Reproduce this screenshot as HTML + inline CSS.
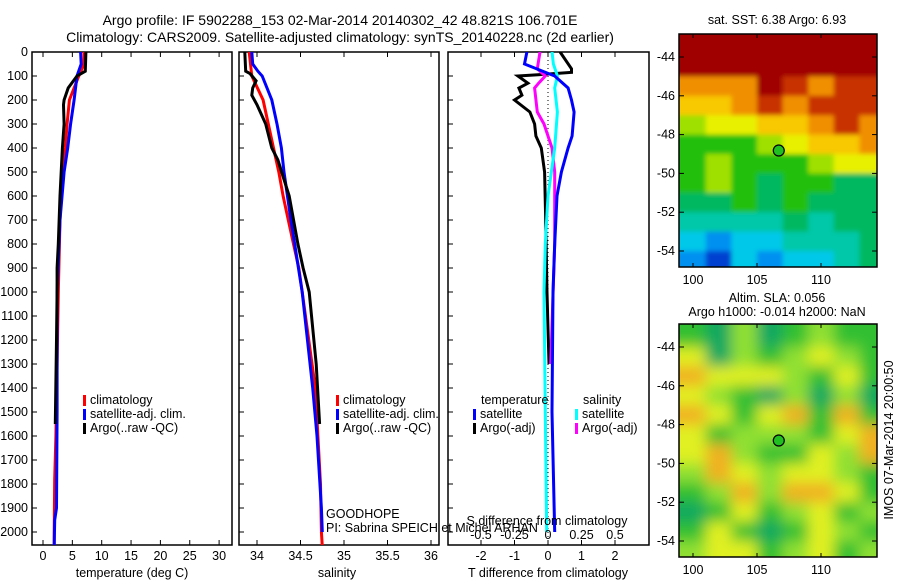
<!DOCTYPE html>
<html><head><meta charset="utf-8"><style>
html,body{margin:0;padding:0;background:#fff;}
svg{display:block;font-family:"Liberation Sans",sans-serif;font-size:12.5px;}
</style></head><body>
<svg id="s" width="900" height="580" viewBox="0 0 900 580">
<defs>
<clipPath id="c1"><rect x="32" y="52" width="200" height="493"/></clipPath>
<clipPath id="c2"><rect x="239" y="52" width="200" height="493"/></clipPath>
<clipPath id="c3"><rect x="448" y="52" width="201" height="493"/></clipPath>
<clipPath id="cm1"><rect x="679" y="34" width="198" height="233"/></clipPath>
<clipPath id="cm2"><rect x="679" y="324" width="198" height="233"/></clipPath>
<filter id="bl" x="0" y="0" width="1" height="1"><feGaussianBlur stdDeviation="7"/></filter>
<filter id="bl2" x="0" y="0" width="1" height="1"><feGaussianBlur stdDeviation="2.5"/></filter>
</defs>
<text x="340" y="25" text-anchor="middle" font-size="14">Argo profile: IF 5902288_153 02-Mar-2014 20140302_42 48.821S 106.701E</text>
<text x="340" y="42" text-anchor="middle" font-size="14">Climatology: CARS2009. Satellite-adjusted climatology: synTS_20140228.nc (2d earlier)</text>
<g id="g"></g>
</svg>
<script>
// ---------- data ----------
const tClimDepth=[0,50,100,150,200,300,400,500,700,1000,1300,1600,1780,2000,2060];
const tClimVal=[7.0,7.0,6.1,5.3,4.5,4.1,3.8,3.3,2.9,2.6,2.4,2.2,2.0,1.9,1.9];
const tSatDepth=[0,50,100,200,300,400,500,700,1000,1500,1900,1950,2060];
const tSatVal=[6.4,6.5,5.8,5.3,4.7,4.2,3.6,2.9,2.4,2.4,2.3,2.0,1.9];
const tArgoDepth=[0,80,100,150,200,220,300,400,600,800,900,1000,1200,1550];
const tArgoVal=[7.3,7.2,5.8,4.3,3.6,3.5,3.6,3.3,2.9,2.6,2.4,2.4,2.3,2.1];
const sClimDepth=[0,100,200,300,400,500,600,700,800,900,1000,1400,1600,1800,2000,2060];
const sClimVal=[33.91,33.94,34.07,34.13,34.19,34.25,34.3,34.36,34.42,34.48,34.52,34.67,34.70,34.73,34.74,34.75];
const sSatDepth=[0,50,80,100,200,300,400,500,700,1000,1400,1600,1900,2000];
const sSatVal=[33.94,33.95,34.01,34.06,34.17,34.23,34.28,34.31,34.39,34.52,34.64,34.69,34.74,34.75];
const sArgoDepth=[0,80,90,120,150,180,220,300,400,450,600,800,900,1000,1300,1550];
const sArgoVal=[33.86,33.87,33.92,33.99,33.95,33.94,34.0,34.10,34.17,34.24,34.37,34.47,34.53,34.6,34.68,34.72];
const dTSatDepth=[0,50,100,150,200,250,350,400,500,600,800,1000,1500,2000];
const dTSatVal=[-0.63,-0.7,0.2,0.6,0.7,0.78,0.72,0.6,0.4,0.27,0.2,0.15,0.12,0.2];
const dTArgoDepth=[0,70,85,95,100,130,150,180,200,250,300,350,400,500,700,1000,1300];
const dTArgoVal=[0.36,0.7,0.7,-0.3,-0.9,-0.6,-0.87,-0.78,-1.0,-0.54,-0.4,-0.36,-0.2,-0.1,-0.07,-0.03,0.03];
const dSArgoDepth=[0,70,100,130,150,250,300,400,500,800,1300];
const dSArgoVal=[-0.06,-0.08,-0.02,-0.07,-0.1,-0.08,-0.03,0.03,0.05,0.05,0.02];
const dSSatDepth=[0,50,100,150,250,400,600,800,1000,1500,2000];
const dSSatVal=[0.03,0.04,0.07,0.05,0.07,0.05,0.0,-0.02,-0.03,-0.02,-0.01];
const depthTicks=[0,100,200,300,400,500,600,700,800,900,1000,1100,1200,1300,1400,1500,1600,1700,1800,1900,2000];
const tTicks=[0,5,10,15,20,25,30];
const sTicks=[34,34.5,35,35.5,36];
const dTTicks=[-2,-1,0,1,2];
const dSTicks=[-0.5,-0.25,0,0.25,0.5];
const latTicks=[-44,-46,-48,-50,-52,-54];
const lonTicks=[100,105,110];
const sstColors=['#a00000','#c83000','#f09000','#f8c800','#e8f000','#a0e000','#20c010','#00b860','#00c8a8','#00c8e8','#0090f0','#0040d0'];
const sstGrid=["00000000","00000000","22201211","33212111","54433212","66654332","65666544","65676677","77676777","88887877","9a998887","ab9a9987"];
const slaColors=['#10a860','#30c030','#90e030','#e0f020','#f0b020'];
const slaGrid=["10201211","30212321","43332131","32102020","43134141","31222134","34211324","24323321","12424431","01312312","13101321","23312312"];
// ---------- scales ----------
const NS='http://www.w3.org/2000/svg';
const g=document.getElementById('g');
function el(tag,attrs,parent){const e=document.createElementNS(NS,tag);for(const k in attrs)e.setAttribute(k,attrs[k]);(parent||g).appendChild(e);return e;}
function Y(d){return 52+d*0.24;}
function xT(t){return 43+t*5.87;}
function xS(s){return 257+(s-34)*87;}
function xdT(v){return 548+v*33.5;}
function xdS(v){return 548+v*134;}
function lat(l){return 57+(-44-l)*19.4;}
function lon(l){return 693+(l-100)*12.8;}

function panel(x0,name){
  const r=el('rect',{x:x0,y:52,width:200,height:493,fill:'none',stroke:'#000','stroke-width':1.5});
  
  
}
function line(depths,vals,xf,color,clip,name){
  const pts=depths.map((d,i)=>xf(vals[i]).toFixed(1)+','+Y(d).toFixed(1)).join(' ');
  const p=el('polyline',{points:pts,fill:'none',stroke:color,'stroke-width':3,'clip-path':'url(#'+clip+')'});
  
  
}
function txt(x,y,s,anchor,name,extra){
  const t=el('text',Object.assign({x:x,y:y,'text-anchor':anchor||'start'},extra||{}));
  t.textContent=s;
  
  
  return t;
}
panel(32,'temperature-panel');panel(239,'salinity-panel');
const p3=el('rect',{x:448,y:52,width:201,height:493,fill:'none',stroke:'#000','stroke-width':1.5});


depthTicks.forEach(d=>{
  txt(28,Y(d)+4,String(d),'end','y-tick-label');
  [32,239,448].forEach(x0=>{el('line',{x1:x0,x2:x0+5,y1:Y(d),y2:Y(d),stroke:'#000'});});
});
tTicks.forEach(t=>{const x=xT(t);el('line',{x1:x,x2:x,y1:52,y2:57,stroke:'#000'});el('line',{x1:x,x2:x,y1:540,y2:545,stroke:'#000'});txt(x,560,String(t),'middle','x-tick-temperature');});
sTicks.forEach(s=>{const x=xS(s);el('line',{x1:x,x2:x,y1:52,y2:57,stroke:'#000'});el('line',{x1:x,x2:x,y1:540,y2:545,stroke:'#000'});txt(x,560,String(s),'middle','x-tick-salinity');});
dTTicks.forEach(v=>{const x=xdT(v);el('line',{x1:x,x2:x,y1:52,y2:57,stroke:'#000'});el('line',{x1:x,x2:x,y1:540,y2:545,stroke:'#000'});txt(x,560,String(v),'middle','x-tick-t-difference');});
txt(132,577,'temperature (deg C)','middle','x-axis-title-temperature');
txt(337,577,'salinity','middle','x-axis-title-salinity');
txt(548,577,'T difference from climatology','middle','x-axis-title-t-difference');
const z=el('line',{x1:xdT(0),x2:xdT(0),y1:52,y2:545,stroke:'#000','stroke-dasharray':'1,3'});


line(tClimDepth,tClimVal,xT,'#f00','c1','temp-climatology-line');
line(tSatDepth,tSatVal,xT,'#00f','c1','temp-satellite-line');
line(tArgoDepth,tArgoVal,xT,'#000','c1','temp-argo-line');
line(sClimDepth,sClimVal,xS,'#f00','c2','sal-climatology-line');
line(sSatDepth,sSatVal,xS,'#00f','c2','sal-satellite-line');
line(sArgoDepth,sArgoVal,xS,'#000','c2','sal-argo-line');
line(dTArgoDepth,dTArgoVal,xdT,'#000','c3','dt-argo-line');
line(dSArgoDepth,dSArgoVal,xdS,'#f0f','c3','ds-argo-line');
line(dSSatDepth,dSSatVal,xdS,'#0ff','c3','ds-satellite-line');
line(dTSatDepth,dTSatVal,xdT,'#00f','c3','dt-satellite-line');
function leg(x,y,c,s,name){el('rect',{x:x,y:y-9,width:3,height:11,fill:c});txt(x+7,y,s,'start',name);}
[[83,'t'],[336,'s']].forEach(([x,k])=>{
  leg(x,404,'#f00','climatology','legend-climatology');
  leg(x,418,'#00f','satellite-adj. clim.','legend-satellite');
  leg(x,432,'#000','Argo(..raw -QC)','legend-argo');
});
txt(481,404,'temperature','start','legend-temperature-header');
leg(473,418,'#00f','satellite','legend-dt-satellite');
leg(473,432,'#000','Argo(-adj)','legend-dt-argo');
txt(583,404,'salinity','start','legend-salinity-header');
leg(575,418,'#0ff','satellite','legend-ds-satellite');
leg(575,432,'#f0f','Argo(-adj)','legend-ds-argo');
txt(326,518,'GOODHOPE','start','project-label');
txt(326,532,'PI: Sabrina SPEICH et Michel ARHAN','start','pi-label');
txt(547,525,'S difference from climatology','middle','s-difference-title');
dSTicks.forEach(v=>txt(xdS(v),539,String(v),'middle','x-tick-s-difference'));
function map(y0,grid,colors,clip,filt,name,dy){
  const gg=el('g',{'clip-path':'url(#'+clip+')'});
  const inner=el('g',{filter:'url(#'+filt+')'},gg);
  const lonEdges=[97,101,103,105,107,109,111,113,116];
  grid.forEach((row,i)=>{
    for(let j=0;j<row.length;j++){
      const c=colors[parseInt(row[j],16)];
      const y1=lat(-43-i)+dy, y2=lat(-44-i)+dy;
      const ya=i===0?y0-20:y1, yb=i===grid.length-1?y2+20:y2;
      const r=el('rect',{x:lon(lonEdges[j]),y:ya,width:lon(lonEdges[j+1])-lon(lonEdges[j])+0.5,height:yb-ya+0.5,fill:c},inner);
      
      
    }
  });
  const fr=el('rect',{x:679,y:y0,width:198,height:233,fill:'none',stroke:'#000','stroke-width':1.5});
  
  
  latTicks.forEach(l=>{const y=lat(l)+dy;el('line',{x1:679,x2:684,y1:y,y2:y,stroke:'#000'});el('line',{x1:872,x2:877,y1:y,y2:y,stroke:'#000'});txt(675,y+4,String(l),'end','map-lat-tick');});
  lonTicks.forEach(l=>{const x=lon(l);el('line',{x1:x,x2:x,y1:y0,y2:y0+4,stroke:'#000'});el('line',{x1:x,x2:x,y1:y0+229,y2:y0+233,stroke:'#000'});txt(x,y0+250,String(l),'middle','map-lon-tick');});
  const m=el('circle',{cx:lon(106.701),cy:lat(-48.821)+dy,r:5.5,fill:'#20c020',stroke:'#000','stroke-width':1.2});
  
  
}
map(34,sstGrid,sstColors,'cm1','bl2','sst-map',0);
map(324,slaGrid,slaColors,'cm2','bl','sla-map',290);
txt(777,24,'sat. SST: 6.38 Argo: 6.93','middle','sst-map-title');
txt(777,302,'Altim. SLA: 0.056','middle','sla-map-title');
txt(777,316,'Argo h1000: -0.014 h2000: NaN','middle','sla-map-subtitle');
txt(0,0,'IMOS 07-Mar-2014 20:00:50','middle','imos-timestamp',{transform:'translate(893,440) rotate(-90)'});
</script>
</body></html>
